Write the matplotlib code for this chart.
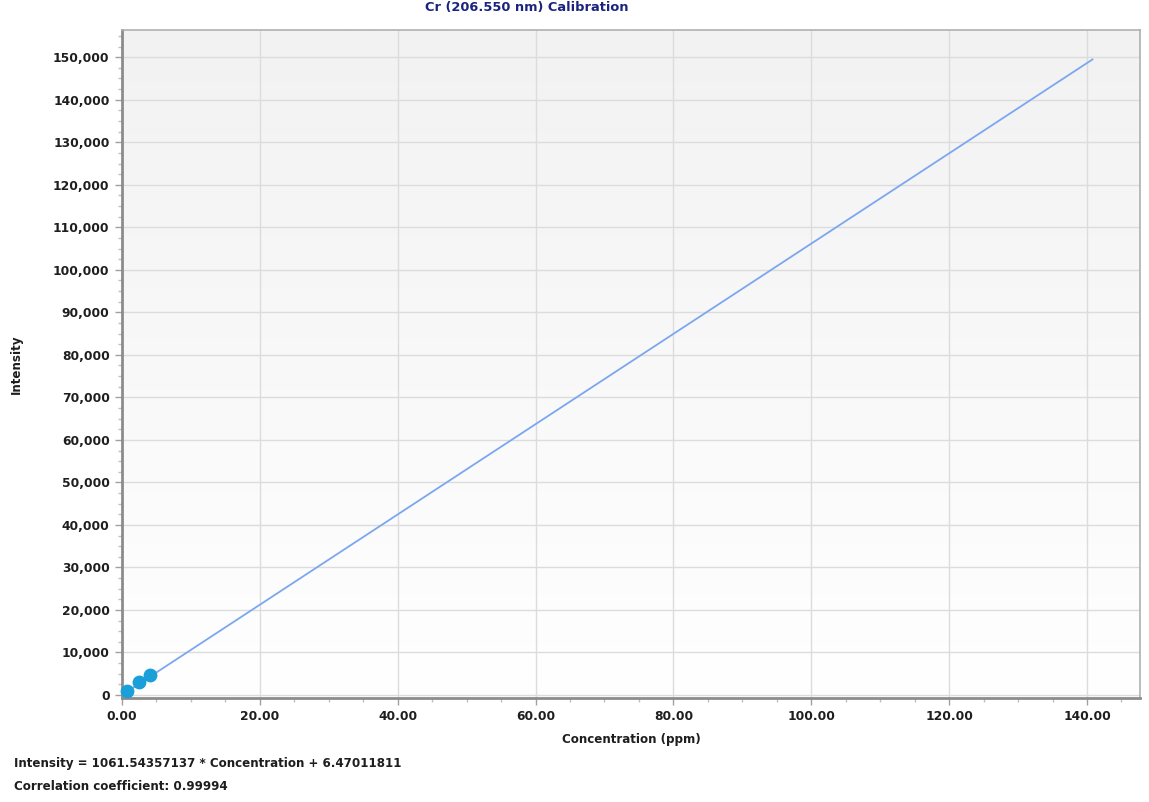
import numpy as np
import matplotlib.pyplot as plt
from matplotlib.colors import LinearSegmentedColormap
from matplotlib.ticker import MultipleLocator, FuncFormatter

# Calibration standards
conc = [0.7, 2.4, 4.1]
intensity = [900, 2950, 4800]

# Fit from the footer text
slope = 1061.54357137
intercept = 6.47011811
fit_x = [0.0, 140.8]

fig = plt.figure(figsize=(11.49, 8.02), dpi=100)
ax = fig.add_axes([0.1062, 0.1297, 0.886, 0.8329])

# light gray (top) to white (bottom) gradient background
grad = np.linspace(0, 1, 256).reshape(-1, 1)
bg = LinearSegmentedColormap.from_list('bg', ['#ffffff', '#f2f2f2'])
ax.imshow(grad, extent=[0, 147.7, -700, 156400], aspect='auto',
          cmap=bg, origin='lower', zorder=0)

ax.set_xlim(0, 147.7)
ax.set_ylim(-700, 156400)

ax.grid(True, which='major', color='#dcdcdc', linewidth=1)
ax.set_axisbelow(True)

fy = [slope * x + intercept for x in fit_x]
ax.plot(fit_x, fy, color='#7ba7f0', linewidth=1.3, zorder=3)
ax.scatter(conc, intensity, s=80, color='#1a9fd8', zorder=4, clip_on=False)

ax.xaxis.set_major_locator(MultipleLocator(20))
ax.xaxis.set_minor_locator(MultipleLocator(5))
ax.yaxis.set_major_locator(MultipleLocator(10000))
ax.yaxis.set_minor_locator(MultipleLocator(2500))
ax.xaxis.set_major_formatter(FuncFormatter(lambda v, p: f'{v:.2f}'))
ax.yaxis.set_major_formatter(FuncFormatter(lambda v, p: f'{int(v):,}'))

for lab in ax.get_xticklabels() + ax.get_yticklabels():
    lab.set_fontweight('bold')
ax.tick_params(which='major', length=5, width=1, color='#a0a0a0', labelsize=8.8, labelcolor='#1e1e1e')
ax.tick_params(which='minor', length=3, width=1, color='#c0c0c0')
ax.tick_params(axis='y', pad=4)

for side in ['left', 'bottom']:
    ax.spines[side].set_color('#8c8c8c')
    ax.spines[side].set_linewidth(2)
for side in ['top', 'right']:
    ax.spines[side].set_color('#b0b0b0')
    ax.spines[side].set_linewidth(1.2)

ax.set_xlabel('Concentration (ppm)', fontsize=8.6, fontweight='bold', color='#1e1e1e', labelpad=7)
ax.set_ylabel('Intensity', fontsize=8.6, fontweight='bold', color='#1e1e1e')
ax.yaxis.set_label_coords(-0.097, 0.5)

fig.text(527 / 1149, 1 - 8 / 802, 'Cr (206.550 nm) Calibration', fontsize=9.4,
         fontweight='bold', color='#1a237e', ha='center', va='center')

fig.text(14 / 1149, 1 - 763 / 802, f'Intensity = {slope:.8f} * Concentration + {intercept:.8f}',
         fontsize=8.6, fontweight='bold', color='#1e1e1e', va='center')
fig.text(14 / 1149, 1 - 787 / 802, 'Correlation coefficient: 0.99994',
         fontsize=8.6, fontweight='bold', color='#1e1e1e', va='center')

fig.savefig('out.png', dpi=100)
